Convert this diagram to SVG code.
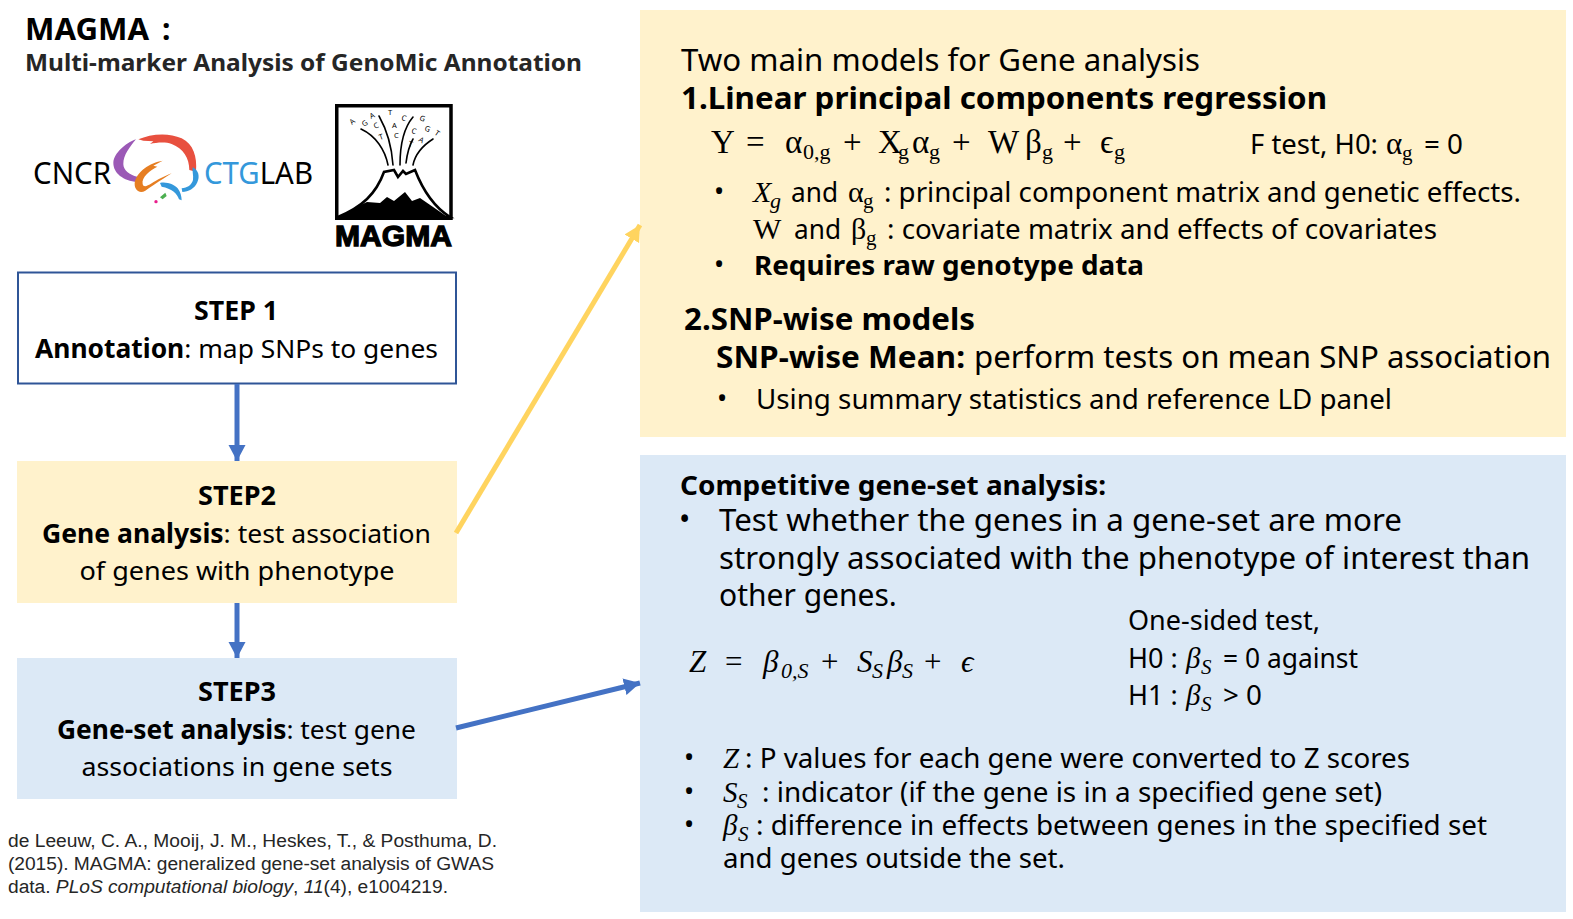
<svg xmlns="http://www.w3.org/2000/svg" width="1573" height="919" viewBox="0 0 1573 919">
<style>
text{font-family:"Noto Sans","Open Sans",sans-serif;fill:#000}
.b{font-weight:700}
.m{font-family:"Liberation Serif","DejaVu Serif",serif}
.i{font-family:"Liberation Serif","DejaVu Serif",serif;font-style:italic}
.c{text-anchor:middle}
.t26{font-size:26px}
.t27{font-size:27px}
.t30{font-size:30px}
.cit{font-family:"Liberation Sans",sans-serif;font-size:19.2px;fill:#262626}
.l{font-family:"Noto Sans",sans-serif;font-size:7.5px;fill:#000}
.plume{fill:none;stroke:#000;stroke-width:1.6;stroke-linecap:round}
.cn{fill:none;stroke-width:5}
</style>
<defs>
<marker id="ab" markerUnits="userSpaceOnUse" markerWidth="17" markerHeight="18" refX="16" refY="9" orient="auto"><path d="M0 0.5 L16 9 L0 17.5 Z" fill="#4472c4"/></marker>
<marker id="ay" markerUnits="userSpaceOnUse" markerWidth="17" markerHeight="18" refX="16" refY="9" orient="auto"><path d="M0 0.5 L16 9 L0 17.5 Z" fill="#ffd45f"/></marker>
</defs>
<rect width="1573" height="919" fill="#fff"/>
<g id="title">
<text class="b" x="25" y="40" font-size="30" textLength="124" lengthAdjust="spacingAndGlyphs">MAGMA</text>
<text class="b" x="162" y="40" font-size="30">:</text>
<text class="b" x="25" y="71" font-size="24" style="fill:#262626" textLength="557" lengthAdjust="spacingAndGlyphs">Multi-marker Analysis of GenoMic Annotation</text>
</g>
<g id="logo-ctg">
<text x="33" y="184" font-size="30" textLength="78" lengthAdjust="spacingAndGlyphs">CNCR</text>
<text x="204" y="184" font-size="30" textLength="109" lengthAdjust="spacingAndGlyphs"><tspan style="fill:#3498db">CTG</tspan><tspan>LAB</tspan></text>
<g transform="translate(100 120) scale(.3333)">
<path fill="#9b59b6" d="M108 58C75 70 42 100 40 128C40 160 70 182 112 186L112 170C88 165 70 150 70 132C70 105 90 80 108 58Z"/>
<path fill="#e8503f" d="M115 58C150 42 205 36 245 55C280 72 292 110 288 155L268 150C268 115 250 85 215 72C195 65 170 68 150 72L160 64L130 62Z"/>
<path fill="#e67e22" d="M188 122C150 128 108 155 104 190C103 212 120 222 136 212C155 200 175 185 215 160C195 168 170 180 155 190C140 200 130 202 128 192C124 172 150 150 172 140L160 137Z"/>
<path fill="#3498db" d="M278 142C296 150 300 170 292 187C284 206 265 216 247 216L245 205C262 204 275 195 279 180C281 165 276 155 278 142Z"/>
<path fill="#3498db" d="M180 189C200 184 225 195 233 205C241 215 245 230 245 241L237 238C232 220 215 206 185 200Z"/>
<path fill="#4caf50" d="M180 232L196 218L200 228L188 238Z"/>
<circle cx="168" cy="245" r="5" fill="#e91e8c"/>
</g>
</g>
<g id="logo-magma">
<rect x="336.750" y="105.750" width="114.250" height="112.500" fill="#fff" stroke="#000" stroke-width="3.500"/>
<path fill="#fff" stroke="#000" stroke-width="2.600" d="M338 217C362 207 376 194 384 172L394 170L398 177L403 171L406 174L415 170C422 188 434 207 450 217Z"/>
<path d="M338 218C350 210 362 204 367 202L380 203L387 197L394 201L405 192L412 201L420 198L449 218Z" fill="#000"/>
<path class="plume" d="M361 129C376 136 385 150 388 165"/>
<path class="plume" d="M379 116C388 132 392 150 393 165"/>
<path class="plume" d="M413 117C402 130 400 150 400 165"/>
<path class="plume" d="M413 139C409 146 407 155 406 163"/>
<path class="plume" d="M433 139C422 146 415 155 413 165"/>
<text class="l" x="352" y="125" transform="rotate(-40 352 125)">A</text>
<text class="l" x="364" y="127" transform="rotate(-35 364 127)">G</text>
<text class="l" x="371" y="119" transform="rotate(-25 371 119)">A</text>
<text class="l" x="375" y="129" transform="rotate(-25 375 129)">C</text>
<text class="l" x="380" y="140" transform="rotate(-20 380 140)">T</text>
<text class="l" x="388" y="115">T</text>
<text class="l" x="392" y="128">A</text>
<text class="l" x="394" y="138">C</text>
<text class="l" x="401" y="120" transform="rotate(15 401 120)">C</text>
<text class="l" x="408" y="146" transform="rotate(15 408 146)">T</text>
<text class="l" x="411" y="133" transform="rotate(15 411 133)">C</text>
<text class="l" x="419" y="120" transform="rotate(20 419 120)">G</text>
<text class="l" x="424" y="130" transform="rotate(25 424 130)">G</text>
<text class="l" x="434" y="134" transform="rotate(35 434 134)">T</text>
<text class="l" x="418" y="141" transform="rotate(30 418 141)">A</text>
<text x="335" y="246" font-size="30" class="b" stroke="#000" stroke-width="1.300" textLength="117" lengthAdjust="spacingAndGlyphs" style="font-family:'Liberation Sans',sans-serif">MAGMA</text>
</g>
<g id="step1">
<rect x="18" y="272.500" width="438" height="111" fill="#fff" stroke="#2f5597" stroke-width="2"/>
<text class="b c t26" x="236" y="320" textLength="84" lengthAdjust="spacingAndGlyphs">STEP 1</text>
<text class="t26" x="35" y="358" textLength="403" lengthAdjust="spacingAndGlyphs"><tspan class="b">Annotation</tspan>: map SNPs to genes</text>
</g>
<g id="step2">
<rect x="17" y="461" width="440" height="142" fill="#fff2cc"/>
<text class="b c t26" x="237" y="505" textLength="78" lengthAdjust="spacingAndGlyphs">STEP2</text>
<text class="t26" x="42" y="543" textLength="389" lengthAdjust="spacingAndGlyphs"><tspan class="b">Gene analysis</tspan>: test association</text>
<text class="t26 c" x="237" y="580" textLength="315" lengthAdjust="spacingAndGlyphs">of genes with phenotype</text>
</g>
<g id="step3">
<rect x="17" y="658" width="440" height="141" fill="#dce9f6"/>
<text class="b c t26" x="237" y="701" textLength="78" lengthAdjust="spacingAndGlyphs">STEP3</text>
<text class="t26" x="57" y="739" textLength="359" lengthAdjust="spacingAndGlyphs"><tspan class="b">Gene-set analysis</tspan>: test gene</text>
<text class="t26 c" x="237" y="776" textLength="311" lengthAdjust="spacingAndGlyphs">associations in gene sets</text>
</g>
<g id="citation">
<text class="cit" x="8" y="847" textLength="489">de Leeuw, C. A., Mooij, J. M., Heskes, T., &amp; Posthuma, D.</text>
<text class="cit" x="8" y="870" textLength="486">(2015). MAGMA: generalized gene-set analysis of GWAS</text>
<text class="cit" x="8" y="893" textLength="440">data. <tspan font-style="italic">PLoS computational biology</tspan>, <tspan font-style="italic">11</tspan>(4), e1004219.</text>
</g>
<g id="gene-panel">
<rect x="640" y="10" width="926" height="427" fill="#fff2cc"/>
<text class="t30" x="681" y="71" textLength="519" lengthAdjust="spacingAndGlyphs">Two main models for Gene analysis</text>
<text class="t30 b" x="681" y="109" textLength="646" lengthAdjust="spacingAndGlyphs">1.Linear principal components regression</text>
<text class="m" font-size="33"><tspan x="711" y="153">Y</tspan><tspan x="746" y="153">=</tspan><tspan x="785" y="153">α</tspan><tspan x="803" y="159" font-size="22">0,g</tspan><tspan x="843" y="153">+</tspan><tspan x="878" y="153">X</tspan><tspan x="898" y="159" font-size="22">g</tspan><tspan x="912" y="153">α</tspan><tspan x="929" y="159" font-size="22">g</tspan><tspan x="952" y="153">+</tspan><tspan x="988" y="153">W</tspan><tspan x="1025" y="153">β</tspan><tspan x="1042" y="159" font-size="22">g</tspan><tspan x="1063" y="153">+</tspan><tspan x="1100" y="153">ϵ</tspan><tspan x="1114" y="159" font-size="22">g</tspan></text>
<text class="t27" x="1250" y="154" textLength="128" lengthAdjust="spacingAndGlyphs">F test, H0:</text>
<text class="m" x="1386" y="154" font-size="31">α<tspan x="1402" y="160" font-size="21">g</tspan></text>
<text class="t27" x="1424" y="154" textLength="39" lengthAdjust="spacingAndGlyphs">= 0</text>
<text class="t27" x="714" y="201">•</text>
<text class="i" x="753" y="202" font-size="30">X<tspan x="770" y="208" font-size="22">g</tspan></text>
<text class="t27" x="791" y="202" textLength="47" lengthAdjust="spacingAndGlyphs">and</text>
<text class="m" x="848" y="202" font-size="30">α<tspan x="863" y="208" font-size="21">g</tspan></text>
<text class="t27" x="884" y="202" textLength="637" lengthAdjust="spacingAndGlyphs">: principal component matrix and genetic effects.</text>
<text class="m" x="753" y="239" font-size="30">W</text>
<text class="t27" x="794" y="239" textLength="47" lengthAdjust="spacingAndGlyphs">and</text>
<text class="m" x="851" y="239" font-size="30">β<tspan x="866" y="245" font-size="21">g</tspan></text>
<text class="t27" x="887" y="239" textLength="550" lengthAdjust="spacingAndGlyphs">: covariate matrix and effects of covariates</text>
<text class="t27" x="714" y="274">•</text>
<text class="t27 b" x="754" y="275" textLength="390" lengthAdjust="spacingAndGlyphs">Requires raw genotype data</text>
<text class="t30 b" x="684" y="330" textLength="291" lengthAdjust="spacingAndGlyphs">2.SNP-wise models</text>
<text class="t30 b" x="716" y="368" textLength="249" lengthAdjust="spacingAndGlyphs">SNP-wise Mean:</text>
<text class="t30" x="974" y="368" textLength="577" lengthAdjust="spacingAndGlyphs">perform tests on mean SNP association</text>
<text class="t27" x="717" y="408">•</text>
<text class="t27" x="756" y="409" textLength="636" lengthAdjust="spacingAndGlyphs">Using summary statistics and reference LD panel</text>
</g>
<g id="geneset-panel">
<rect x="640" y="455" width="926" height="457" fill="#dce9f6"/>
<text class="t27 b" x="680" y="495" textLength="426" lengthAdjust="spacingAndGlyphs">Competitive gene-set analysis:</text>
<text class="t30" x="679" y="530">•</text>
<text class="t30" x="719" y="531" textLength="683" lengthAdjust="spacingAndGlyphs">Test whether the genes in a gene-set are more</text>
<text class="t30" x="719" y="569" textLength="811" lengthAdjust="spacingAndGlyphs">strongly associated with the phenotype of interest than</text>
<text class="t30" x="719" y="606">other genes.</text>
<text class="i" font-size="31"><tspan x="689" y="672">Z</tspan><tspan class="m" font-style="normal" x="725" y="672">=</tspan><tspan x="763" y="672">β</tspan><tspan x="781" y="678" font-size="22">0,S</tspan><tspan class="m" font-style="normal" x="821" y="672">+</tspan><tspan x="857" y="672">S</tspan><tspan x="872" y="678" font-size="22">S</tspan><tspan x="887" y="672">β</tspan><tspan x="902" y="678" font-size="22">S</tspan><tspan class="m" font-style="normal" x="924" y="672">+</tspan><tspan x="961" y="672">ϵ</tspan></text>
<text class="t27" x="1128" y="630">One-sided test,</text>
<text class="t27" x="1128" y="668">H0 :</text>
<text class="i" x="1186" y="668" font-size="29">β<tspan x="1201" y="674" font-size="21">S</tspan></text>
<text class="t27" x="1223" y="668" textLength="135" lengthAdjust="spacingAndGlyphs">= 0 against</text>
<text class="t27" x="1128" y="705">H1 :</text>
<text class="i" x="1186" y="705" font-size="29">β<tspan x="1201" y="711" font-size="21">S</tspan></text>
<text class="t27" x="1223" y="705" textLength="39" lengthAdjust="spacingAndGlyphs">&gt; 0</text>
<text class="t27" x="684" y="767">•</text>
<text class="i" x="723" y="768" font-size="29">Z</text>
<text class="t27" x="745" y="768" textLength="665" lengthAdjust="spacingAndGlyphs">: P values for each gene were converted to Z scores</text>
<text class="t27" x="684" y="801">•</text>
<text class="i" x="723" y="802" font-size="29">S<tspan x="737" y="808" font-size="21">S</tspan></text>
<text class="t27" x="762" y="802" textLength="620" lengthAdjust="spacingAndGlyphs">: indicator (if the gene is in a specified gene set)</text>
<text class="t27" x="684" y="834">•</text>
<text class="i" x="723" y="835" font-size="29">β<tspan x="738" y="841" font-size="21">S</tspan></text>
<text class="t27" x="756" y="835" textLength="731" lengthAdjust="spacingAndGlyphs">: difference in effects between genes in the specified set</text>
<text class="t27" x="723" y="868" textLength="342" lengthAdjust="spacingAndGlyphs">and genes outside the set.</text>
</g>
<g id="connectors">
<path class="cn" stroke="#4472c4" marker-end="url(#ab)" d="M237 384V461"/>
<path class="cn" stroke="#4472c4" marker-end="url(#ab)" d="M237 603V658"/>
<path class="cn" stroke="#ffd45f" marker-end="url(#ay)" d="M456 533L640 225"/>
<path class="cn" stroke="#4472c4" marker-end="url(#ab)" d="M456 728L640 683"/>
</g>
</svg>
